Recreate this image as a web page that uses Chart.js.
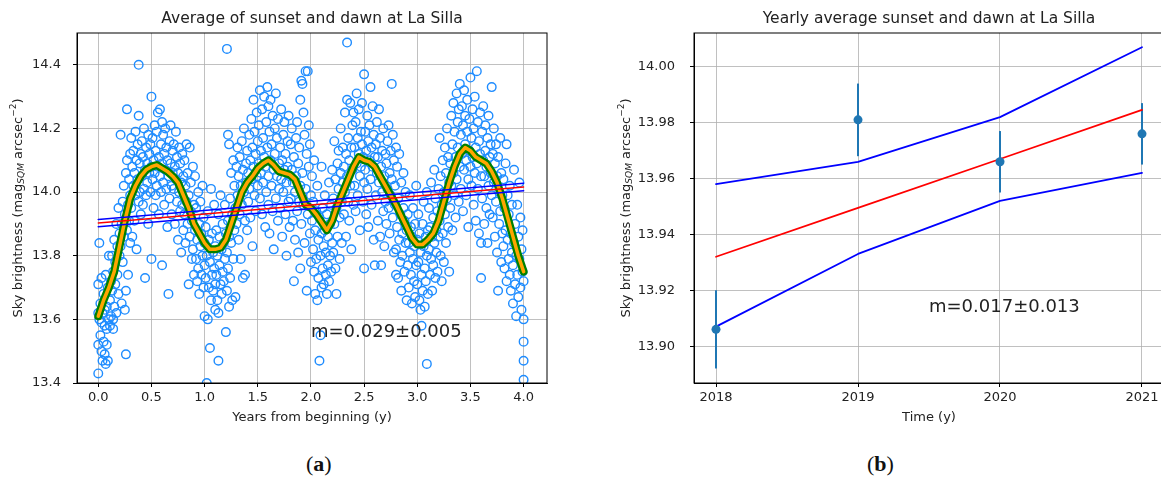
<!DOCTYPE html>
<html>
<head>
<meta charset="utf-8">
<script src="https://cdn.jsdelivr.net/npm/chart.js@4.4.0/dist/chart.umd.min.js"></script>
<style>
  html, body { margin: 0; padding: 0; background: #fff; overflow: hidden; width: 1161px; height: 483px; }
  canvas { position: absolute; top: 0; }
  #left { left: 0; width: 570px; height: 430px; }
  #right { left: 580px; width: 600px; height: 430px; }
  .panel { position: absolute; top: 451px; font-size: 22px; font-family: "Liberation Serif", "DejaVu Serif", serif; color: #111; }
</style>
</head>
<body>
<canvas id="left" width="570" height="430"></canvas>
<canvas id="right" width="600" height="430"></canvas>
<div class="panel" style="left:306px">(<b>a</b>)</div>
<div class="panel" style="left:867px">(<b>b</b>)</div>
<script>
// ---- panel (a): nightly values, years since start vs. sky brightness ----
const skyPoints = [
  [0.00,13.43],[0.00,13.52],[0.00,13.62],[0.00,13.71],[0.01,13.60],[0.01,13.84],[0.02,13.65],[0.02,13.55],[0.03,13.50],[0.03,13.73],[0.04,13.47],[0.04,13.62],[0.05,13.53],[0.05,13.68],[0.06,13.49],[0.06,13.58],[0.07,13.46],[0.07,13.74],[0.08,13.52],[0.08,13.64],[0.09,13.47],[0.09,13.70],[0.10,13.60],[0.10,13.80],[0.03,13.59],[0.06,13.63],[0.08,13.57],
  [0.11,13.58],[0.11,13.66],[0.12,13.72],[0.12,13.61],[0.13,13.80],[0.13,13.69],[0.14,13.57],[0.14,13.75],[0.15,13.64],[0.15,13.85],[0.16,13.71],[0.16,13.78],[0.17,13.62],[0.17,13.90],[0.18,13.74],[0.18,13.83],[0.19,13.68],[0.19,13.95],[0.20,13.80],[0.20,13.87],[0.14,13.60],
  [0.21,13.83],[0.21,14.18],[0.22,13.90],[0.22,13.65],[0.23,13.97],[0.23,13.78],[0.24,13.86],[0.24,14.02],[0.25,13.63],[0.25,13.93],[0.26,13.49],[0.26,13.69],[0.26,14.06],[0.27,14.26],[0.27,13.88],[0.27,14.10],[0.28,13.96],[0.28,13.74],[0.29,14.04],[0.29,13.91],[0.30,14.12],[0.30,13.99],[0.30,13.84],
  [0.31,14.17],[0.31,13.95],[0.32,14.08],[0.32,13.86],[0.33,14.13],[0.33,14.02],[0.34,13.91],[0.34,14.06],[0.35,14.19],[0.35,13.99],[0.36,14.10],[0.36,13.82],[0.37,14.04],[0.37,14.15],[0.38,14.40],[0.38,14.24],[0.38,13.97],[0.39,14.09],[0.39,14.00],[0.40,14.12],[0.40,13.93],
  [0.41,14.05],[0.41,14.16],[0.42,13.96],[0.42,14.11],[0.43,14.01],[0.43,14.20],[0.44,13.73],[0.44,14.07],[0.45,14.14],[0.45,13.99],[0.46,14.09],[0.46,14.03],[0.47,14.18],[0.47,13.90],[0.48,14.12],[0.48,14.06],[0.49,14.00],[0.49,14.15],[0.50,14.30],[0.50,13.79],[0.50,14.08],
  [0.51,14.04],[0.51,14.17],[0.52,14.10],[0.52,13.95],[0.53,14.21],[0.53,14.06],[0.54,14.13],[0.54,13.99],[0.55,14.02],[0.55,14.19],[0.56,14.08],[0.56,14.25],[0.57,14.11],[0.57,13.93],[0.58,14.26],[0.58,14.05],[0.59,14.15],[0.59,14.00],[0.60,13.77],[0.60,14.09],[0.60,14.22],
  [0.61,14.18],[0.61,14.03],[0.62,14.12],[0.62,13.96],[0.63,14.07],[0.63,14.20],[0.64,14.01],[0.64,14.14],[0.65,13.89],[0.65,14.10],[0.66,13.68],[0.66,14.05],[0.67,14.16],[0.67,13.98],[0.68,14.09],[0.68,14.21],[0.69,14.02],[0.69,13.93],[0.70,14.13],[0.70,14.06],
  [0.71,14.15],[0.71,14.01],[0.72,14.08],[0.72,13.90],[0.73,14.19],[0.73,14.04],[0.74,13.97],[0.74,14.11],[0.75,14.06],[0.75,13.85],[0.76,14.14],[0.76,14.00],[0.77,13.94],[0.77,14.09],[0.78,14.03],[0.78,13.81],[0.79,14.12],[0.79,13.96],[0.80,14.05],[0.80,13.88],
  [0.81,14.10],[0.81,13.93],[0.82,14.02],[0.82,13.84],[0.83,14.15],[0.83,13.97],[0.84,13.90],[0.84,14.06],[0.85,13.71],[0.85,13.99],[0.86,14.14],[0.86,13.86],[0.87,13.94],[0.87,14.03],[0.88,13.79],[0.88,13.91],[0.89,14.08],[0.89,13.82],[0.90,13.74],[0.90,13.96],
  [0.91,13.88],[0.91,14.05],[0.92,13.79],[0.92,13.95],[0.93,13.72],[0.93,13.85],[0.94,14.00],[0.94,13.76],[0.95,13.90],[0.95,13.68],[0.96,13.83],[0.96,13.97],[0.97,13.74],[0.97,13.87],[0.98,13.80],[0.98,14.02],[0.99,13.70],[0.99,13.92],[1.00,13.61],[1.00,13.84],[1.00,13.77],
  [1.01,13.73],[1.01,13.89],[1.02,13.40],[1.02,13.80],[1.03,13.60],[1.03,13.94],[1.04,13.70],[1.04,13.85],[1.05,13.51],[1.05,13.78],[1.06,13.66],[1.06,14.01],[1.07,13.74],[1.07,13.87],[1.08,13.69],[1.08,13.81],[1.09,13.76],[1.09,13.96],[1.10,13.63],[1.10,13.83],[1.10,13.71],
  [1.11,13.74],[1.11,13.88],[1.12,13.80],[1.12,13.66],[1.13,13.47],[1.13,13.62],[1.13,13.93],[1.14,13.77],[1.14,13.86],[1.15,13.71],[1.15,13.99],[1.16,13.82],[1.16,13.68],[1.17,13.75],[1.17,13.90],[1.18,13.84],[1.18,13.72],[1.19,13.79],[1.19,13.96],[1.20,13.56],[1.20,13.87],[1.21,14.45],[1.22,14.18],[1.23,14.15],[1.23,13.64],
  [1.21,13.81],[1.21,13.69],[1.22,13.91],[1.22,13.76],[1.23,13.86],[1.24,13.98],[1.24,13.73],[1.25,13.84],[1.25,14.06],[1.26,13.66],[1.26,13.93],[1.27,14.10],[1.27,13.79],[1.28,13.88],[1.28,14.02],[1.29,13.95],[1.29,13.67],[1.30,14.08],[1.30,13.90],
  [1.31,13.99],[1.31,14.14],[1.32,13.85],[1.32,14.05],[1.33,13.93],[1.33,14.11],[1.34,14.02],[1.34,13.79],[1.35,14.16],[1.35,13.96],[1.36,13.73],[1.36,14.07],[1.37,14.00],[1.37,14.20],[1.38,13.74],[1.38,13.91],[1.39,14.09],[1.39,14.03],[1.40,13.88],[1.40,14.13],
  [1.41,14.06],[1.41,13.97],[1.42,14.18],[1.42,14.01],[1.43,13.92],[1.43,14.10],[1.44,14.23],[1.44,14.04],[1.45,13.83],[1.45,14.14],[1.46,14.29],[1.46,14.08],[1.47,13.99],[1.47,14.19],[1.48,14.12],[1.48,13.94],[1.49,14.05],[1.49,14.25],[1.50,14.16],[1.50,14.02],
  [1.51,14.09],[1.51,14.21],[1.52,14.32],[1.52,13.98],[1.53,14.13],[1.53,14.06],[1.54,14.26],[1.54,13.93],[1.55,14.17],[1.55,14.03],[1.56,14.11],[1.56,14.30],[1.57,14.08],[1.57,13.89],[1.58,14.22],[1.58,14.00],[1.59,14.33],[1.59,14.14],[1.60,14.05],[1.60,14.27],[1.60,13.96],
  [1.61,14.19],[1.61,13.87],[1.62,14.10],[1.62,14.29],[1.63,14.02],[1.63,14.15],[1.64,13.94],[1.64,14.24],[1.65,14.07],[1.65,13.82],[1.66,14.20],[1.66,14.12],[1.67,13.98],[1.67,14.31],[1.68,14.05],[1.68,14.17],[1.69,13.91],[1.69,14.23],[1.70,14.09],[1.70,14.01],
  [1.71,14.14],[1.71,13.95],[1.72,14.26],[1.72,14.04],[1.73,14.10],[1.73,13.86],[1.74,14.18],[1.74,14.00],[1.75,14.07],[1.75,14.22],[1.76,13.93],[1.76,14.12],[1.77,14.03],[1.77,13.80],[1.78,14.16],[1.78,14.08],[1.79,13.97],[1.79,14.24],[1.80,14.05],[1.80,13.89],
  [1.81,14.15],[1.81,13.98],[1.82,14.07],[1.82,14.20],[1.83,13.91],[1.83,14.03],[1.84,13.72],[1.84,14.11],[1.85,14.00],[1.85,13.85],[1.86,14.17],[1.86,14.05],[1.87,13.94],[1.87,14.22],[1.88,14.09],[1.88,13.81],[1.89,13.97],[1.89,14.14],[1.90,13.76],[1.90,14.29],[1.90,14.02],
  [1.91,14.35],[1.91,13.90],[1.92,14.34],[1.92,14.06],[1.93,14.25],[1.93,13.96],[1.94,14.18],[1.94,13.84],[1.95,14.38],[1.95,14.01],[1.96,14.12],[1.96,13.69],[1.97,14.38],[1.97,13.93],[1.98,14.21],[1.98,14.08],[1.99,13.87],[1.99,14.15],[2.00,13.99],[2.00,13.78],
  [2.01,13.91],[2.01,14.05],[2.02,13.82],[2.02,13.97],[2.03,13.75],[2.03,14.10],[2.04,13.88],[2.04,13.68],[2.05,13.94],[2.05,13.79],[2.06,13.66],[2.06,14.02],[2.07,13.85],[2.07,13.73],[2.08,13.47],[2.08,13.92],[2.09,13.55],[2.09,13.80],[2.10,14.08],[2.10,13.70],[2.10,13.87],
  [2.11,13.76],[2.11,13.95],[2.12,13.83],[2.12,13.71],[2.13,13.99],[2.13,13.88],[2.14,13.74],[2.14,13.81],[2.15,13.93],[2.15,13.68],[2.16,13.86],[2.16,13.77],[2.17,14.03],[2.17,13.72],[2.18,13.90],[2.18,13.80],[2.19,13.96],[2.19,13.75],[2.20,13.84],[2.20,14.07],
  [2.21,13.98],[2.21,13.81],[2.22,14.16],[2.22,13.90],[2.23,14.04],[2.23,13.76],[2.24,13.68],[2.24,13.95],[2.25,14.09],[2.25,13.86],[2.26,14.01],[2.26,14.13],[2.27,13.92],[2.27,13.79],[2.28,14.06],[2.28,14.20],[2.29,13.97],[2.29,13.84],[2.30,14.14],[2.30,14.03],
  [2.31,14.08],[2.31,13.93],[2.32,14.25],[2.32,14.00],[2.33,14.12],[2.33,13.86],[2.34,14.47],[2.34,14.29],[2.34,14.05],[2.35,13.97],[2.35,14.17],[2.36,14.10],[2.36,13.91],[2.37,14.28],[2.37,14.02],[2.38,14.14],[2.38,13.82],[2.39,14.21],[2.39,14.07],[2.40,14.25],[2.40,13.96],
  [2.41,14.14],[2.41,14.02],[2.42,14.22],[2.42,13.94],[2.43,14.09],[2.43,14.31],[2.44,14.17],[2.44,13.99],[2.45,14.12],[2.45,14.26],[2.46,14.05],[2.46,13.88],[2.47,14.19],[2.47,14.08],[2.48,14.15],[2.48,14.28],[2.49,13.97],[2.49,14.11],[2.50,14.37],[2.50,13.76],[2.50,14.03],
  [2.51,14.19],[2.51,14.07],[2.52,13.93],[2.52,14.13],[2.53,14.24],[2.53,14.01],[2.54,14.16],[2.54,13.89],[2.55,14.10],[2.55,14.21],[2.56,14.33],[2.56,14.04],[2.57,14.14],[2.57,13.96],[2.58,14.08],[2.58,14.27],[2.59,14.18],[2.59,13.85],[2.60,13.77],[2.60,14.11],
  [2.61,14.15],[2.61,13.99],[2.62,14.22],[2.62,14.06],[2.63,13.91],[2.63,14.11],[2.64,14.03],[2.64,14.26],[2.65,13.86],[2.65,14.17],[2.66,13.77],[2.66,14.08],[2.67,14.00],[2.67,14.13],[2.68,14.20],[2.68,13.94],[2.69,14.05],[2.69,13.83],[2.70,14.12],[2.70,13.97],
  [2.71,14.09],[2.71,13.90],[2.72,14.16],[2.72,14.01],[2.73,13.95],[2.73,14.21],[2.74,14.06],[2.74,13.87],[2.75,14.13],[2.75,13.99],[2.76,14.34],[2.76,14.04],[2.77,13.92],[2.77,14.18],[2.78,14.10],[2.78,13.81],[2.79,13.96],[2.79,14.02],[2.80,13.82],[2.80,14.14],[2.80,13.74],
  [2.81,13.89],[2.81,14.08],[2.82,13.73],[2.82,13.98],[2.83,13.85],[2.83,14.12],[2.84,13.93],[2.84,13.78],[2.85,13.69],[2.85,14.03],[2.86,13.87],[2.86,13.80],[2.87,13.95],[2.87,14.06],[2.88,13.75],[2.88,13.91],[2.89,13.84],[2.89,14.00],[2.90,13.66],[2.90,13.88],
  [2.91,13.77],[2.91,13.93],[2.92,13.84],[2.92,13.70],[2.93,13.99],[2.93,13.81],[2.94,13.74],[2.94,13.89],[2.95,13.65],[2.95,13.86],[2.96,13.79],[2.96,13.95],[2.97,13.72],[2.97,13.83],[2.98,13.90],[2.98,13.67],[2.99,13.77],[2.99,14.02],[3.00,13.85],[3.00,13.71],
  [3.01,13.78],[3.01,13.93],[3.02,13.66],[3.02,13.87],[3.03,13.63],[3.03,13.81],[3.04,13.58],[3.04,13.74],[3.05,13.90],[3.05,13.69],[3.06,13.83],[3.06,13.97],[3.07,13.76],[3.07,13.64],[3.08,13.86],[3.08,13.72],[3.09,13.80],[3.09,14.00],[3.09,13.46],[3.10,13.68],[3.10,13.88],
  [3.11,13.82],[3.11,13.95],[3.12,13.74],[3.12,13.89],[3.13,14.03],[3.13,13.79],[3.14,13.69],[3.14,13.86],[3.15,13.92],[3.15,13.77],[3.16,13.84],[3.16,14.07],[3.17,13.73],[3.17,13.98],[3.18,13.88],[3.18,13.81],[3.19,13.94],[3.19,13.75],[3.20,14.01],[3.20,13.86],
  [3.21,14.17],[3.21,13.91],[3.22,13.80],[3.22,14.05],[3.23,13.96],[3.23,13.72],[3.24,14.10],[3.24,13.87],[3.25,14.00],[3.25,13.78],[3.26,14.14],[3.26,13.93],[3.27,14.06],[3.27,13.84],[3.28,14.20],[3.28,13.98],[3.29,13.89],[3.29,14.11],[3.30,14.03],[3.30,13.75],
  [3.31,14.09],[3.31,13.95],[3.32,14.24],[3.32,14.02],[3.33,14.15],[3.33,13.88],[3.34,14.06],[3.34,14.28],[3.35,13.99],[3.35,14.19],[3.36,14.11],[3.36,13.92],[3.37,14.31],[3.37,14.04],[3.38,14.22],[3.38,14.14],[3.39,13.97],[3.39,14.26],[3.40,14.08],[3.40,14.34],
  [3.41,14.18],[3.41,14.01],[3.42,14.27],[3.42,14.12],[3.43,13.94],[3.43,14.21],[3.44,14.32],[3.44,14.07],[3.45,14.15],[3.45,14.24],[3.46,13.99],[3.46,14.10],[3.47,14.29],[3.47,14.19],[3.48,13.89],[3.48,14.04],[3.49,14.13],[3.49,14.23],[3.50,14.36],[3.50,14.08],
  [3.51,14.17],[3.51,14.02],[3.52,14.26],[3.52,14.11],[3.53,13.96],[3.53,14.20],[3.54,14.06],[3.54,14.30],[3.55,14.14],[3.55,13.91],[3.56,14.38],[3.56,14.09],[3.57,14.22],[3.57,14.01],[3.58,14.16],[3.58,13.87],[3.59,14.12],[3.59,14.25],[3.60,13.73],[3.60,14.05],[3.60,13.84],
  [3.61,14.19],[3.61,13.98],[3.62,14.10],[3.62,14.27],[3.63,13.90],[3.63,14.05],[3.64,14.21],[3.64,14.13],[3.65,13.95],[3.65,14.08],[3.66,14.17],[3.66,13.84],[3.67,14.02],[3.67,14.24],[3.68,14.11],[3.68,13.93],[3.69,14.06],[3.69,14.15],[3.70,13.99],[3.70,14.33],
  [3.71,14.12],[3.71,13.92],[3.72,14.20],[3.72,14.03],[3.73,13.86],[3.73,14.09],[3.74,14.15],[3.74,13.97],[3.75,14.05],[3.75,13.81],[3.76,13.69],[3.76,14.11],[3.77,14.00],[3.77,13.90],[3.78,14.17],[3.78,13.94],[3.79,13.78],[3.79,14.06],[3.80,13.99],[3.80,13.87],
  [3.81,14.04],[3.81,13.83],[3.82,13.95],[3.82,13.76],[3.83,14.09],[3.83,13.88],[3.84,14.15],[3.84,13.72],[3.85,13.99],[3.85,13.85],[3.86,13.79],[3.86,13.93],[3.87,14.02],[3.87,13.74],[3.88,13.87],[3.88,13.69],[3.89,13.81],[3.89,13.96],[3.90,13.65],[3.90,13.77],
  [3.91,13.84],[3.91,14.07],[3.92,13.71],[3.92,13.90],[3.93,13.61],[3.93,13.80],[3.94,13.96],[3.94,13.74],[3.95,13.86],[3.95,13.67],[3.96,13.79],[3.96,14.03],[3.97,13.70],[3.97,13.92],[3.98,13.63],[3.98,13.82],[3.99,13.75],[3.99,13.88],[4.00,13.53],[4.00,13.47],[4.00,13.41],[4.00,13.72],[4.00,13.60]
];

// running mean through the nightly values
const runningMean = [
  [0.00,13.61],[0.05,13.66],[0.10,13.70],[0.15,13.75],[0.20,13.83],[0.25,13.91],[0.30,13.98],[0.35,14.02],[0.40,14.05],[0.45,14.07],
  [0.50,14.08],[0.55,14.085],[0.60,14.075],[0.65,14.065],[0.70,14.05],[0.75,14.03],[0.80,13.99],[0.85,13.95],[0.90,13.90],[0.95,13.87],
  [1.00,13.84],[1.05,13.82],[1.10,13.82],[1.15,13.825],[1.20,13.85],[1.25,13.90],[1.30,13.95],[1.35,14.00],[1.40,14.03],[1.45,14.05],
  [1.50,14.075],[1.55,14.09],[1.60,14.10],[1.65,14.085],[1.70,14.065],[1.75,14.06],[1.80,14.055],[1.85,14.04],[1.90,14.00],[1.95,13.96],
  [2.00,13.95],[2.05,13.93],[2.10,13.905],[2.15,13.88],[2.20,13.91],[2.25,13.96],[2.30,14.00],[2.35,14.04],[2.40,14.08],[2.45,14.11],
  [2.50,14.10],[2.55,14.095],[2.60,14.08],[2.65,14.05],[2.70,14.02],[2.75,13.99],[2.80,13.96],[2.85,13.925],[2.90,13.89],[2.95,13.855],
  [3.00,13.835],[3.05,13.835],[3.10,13.85],[3.15,13.87],[3.20,13.91],[3.25,13.97],[3.30,14.03],[3.35,14.08],[3.40,14.12],[3.45,14.14],
  [3.50,14.13],[3.55,14.11],[3.60,14.10],[3.65,14.09],[3.70,14.065],[3.75,14.03],[3.80,13.98],[3.85,13.92],[3.90,13.86],[3.95,13.80],
  [4.00,13.75]
];

// linear fit and its band, evaluated at the ends of the range
const fitYears = [0, 4];
const fitMag = [13.903, 14.016];
const fitMagHigh = [13.914, 14.028];
const fitMagLow = [13.891, 14.004];

const tickYearsA = [0, 0.5, 1, 1.5, 2, 2.5, 3, 3.5, 4];
const tickMagA = [13.4, 13.6, 13.8, 14.0, 14.2, 14.4];

// ---- panel (b): yearly means ----
const years = [2018, 2019, 2020, 2021];
const yearMag = [13.906, 13.981, 13.966, 13.976];
const yearErr = [0.014, 0.013, 0.011, 0.011];
const yearFit = [13.932, 13.9495, 13.967, 13.9846];
const yearFitHigh = [13.958, 13.966, 13.982, 14.007];
const yearFitLow = [13.907, 13.933, 13.952, 13.962];

const tickMagB = [13.90, 13.92, 13.94, 13.96, 13.98, 14.00];

const FONT = '"DejaVu Sans", Verdana, sans-serif';
Chart.defaults.font.family = FONT;
Chart.defaults.color = '#222';

const xy = (xs, ys) => xs.map((x, i) => ({ x, y: ys[i] }));
const pairs = list => list.map(p => ({ x: p[0], y: p[1] }));

// frame on all four sides, title, slope note and the y label with sub/superscripts
const decorations = {
  id: 'decorations',
  afterDraw(chart, args, o) {
    const { ctx, chartArea: a, scales } = chart;
    ctx.save();
    ctx.strokeStyle = '#000';
    ctx.lineWidth = 1;
    ctx.strokeRect(a.left, a.top, a.right - a.left, a.bottom - a.top);

    ctx.fillStyle = '#222';
    ctx.textBaseline = 'middle';
    ctx.textAlign = 'center';
    ctx.font = '15.5px ' + FONT;
    ctx.fillText(o.title, (a.left + a.right) / 2, 19);

    ctx.textAlign = 'left';
    ctx.font = '18px ' + FONT;
    ctx.fillText(o.note, scales.x.getPixelForValue(o.noteAt[0]), scales.y.getPixelForValue(o.noteAt[1]));

    const parts = [
      { t: 'Sky brightness (mag', f: '13px ' + FONT, dy: 0 },
      { t: 'SQM', f: 'italic 9px ' + FONT, dy: 3 },
      { t: ' arcsec', f: '13px ' + FONT, dy: 0 },
      { t: '\u22122', f: '9px ' + FONT, dy: -5 },
      { t: ')', f: '13px ' + FONT, dy: 0 }
    ];
    let total = 0;
    parts.forEach(p => { ctx.font = p.f; p.w = ctx.measureText(p.t).width; total += p.w; });
    ctx.translate(o.yTitleX, (a.top + a.bottom) / 2);
    ctx.rotate(-Math.PI / 2);
    let cx = -total / 2;
    parts.forEach(p => { ctx.font = p.f; ctx.fillText(p.t, cx, p.dy); cx += p.w; });
    ctx.restore();
  }
};

const errorBars = {
  id: 'errorBars',
  beforeDatasetsDraw(chart) {
    const { ctx, scales: { x, y } } = chart;
    ctx.save();
    ctx.strokeStyle = '#1f77b4';
    ctx.lineWidth = 2;
    years.forEach((yr, i) => {
      const px = x.getPixelForValue(yr);
      ctx.beginPath();
      ctx.moveTo(px, y.getPixelForValue(yearMag[i] - yearErr[i]));
      ctx.lineTo(px, y.getPixelForValue(yearMag[i] + yearErr[i]));
      ctx.stroke();
    });
    ctx.restore();
  }
};

const grid = { color: '#b0b0b0', lineWidth: 0.8, tickColor: '#000', tickWidth: 1, tickLength: 4 };
const border = { color: '#000', width: 1 };
const fixedTicks = list => s => { s.ticks = list.map(v => ({ value: v })); };

const line = (data, color, width, order) => ({
  type: 'line', data, borderColor: color, borderWidth: width, pointRadius: 0,
  fill: false, tension: 0, borderJoinStyle: 'round', borderCapStyle: 'round', clip: 0, order
});

new Chart(document.getElementById('left'), {
  data: {
    datasets: [
      line(xy(fitYears, fitMagHigh), '#0000ff', 1.6, 1),
      line(xy(fitYears, fitMagLow), '#0000ff', 1.6, 1),
      line(xy(fitYears, fitMag), '#ff0000', 1.4, 0),
      line(pairs(runningMean), '#ffa500', 3.5, 2),
      line(pairs(runningMean), '#008000', 8, 3),
      {
        type: 'scatter', data: pairs(skyPoints), order: 4, clip: 0,
        pointRadius: 4.3, pointBorderWidth: 1.4, pointBorderColor: '#1e8cff',
        pointBackgroundColor: 'rgba(0,0,0,0)', showLine: false
      }
    ]
  },
  options: {
    responsive: false, animation: false, events: [],
    layout: { padding: { top: 33, right: 23, left: 0, bottom: 0 } },
    plugins: {
      legend: { display: false }, tooltip: { enabled: false },
      decorations: {
        title: 'Average of sunset and dawn at La Silla',
        note: 'm=0.029\u00b10.005', noteAt: [2.0, 13.56], yTitleX: 19
      }
    },
    scales: {
      x: {
        type: 'linear', min: -0.2, max: 4.22,
        afterBuildTicks: fixedTicks(tickYearsA),
        afterFit: s => { s.height = 47; },
        grid, border,
        ticks: { callback: v => v.toFixed(1), font: { size: 13 }, padding: 3, maxRotation: 0, autoSkip: false },
        title: { display: true, text: 'Years from beginning (y)', font: { size: 13 }, padding: { top: 0, bottom: 5 } }
      },
      y: {
        type: 'linear', min: 13.4, max: 14.5,
        afterBuildTicks: fixedTicks(tickMagA),
        afterFit: s => { s.width = 77; },
        grid, border,
        ticks: { callback: v => v.toFixed(1), font: { size: 13 }, padding: 12, autoSkip: false }
      }
    }
  },
  plugins: [decorations]
});

new Chart(document.getElementById('right'), {
  data: {
    datasets: [
      {
        type: 'scatter', data: xy(years, yearMag), order: 0, clip: 0,
        pointRadius: 4.5, pointBorderWidth: 0, pointBackgroundColor: '#1f77b4', showLine: false
      },
      line(xy(years, yearFitHigh), '#0000ff', 1.8, 1),
      line(xy(years, yearFitLow), '#0000ff', 1.8, 1),
      line(xy(years, yearFit), '#ff0000', 1.8, 1)
    ]
  },
  options: {
    responsive: false, animation: false, events: [],
    layout: { padding: { top: 33, right: 16, left: 0, bottom: 0 } },
    plugins: {
      legend: { display: false }, tooltip: { enabled: false },
      decorations: {
        title: 'Yearly average sunset and dawn at La Silla',
        note: 'm=0.017\u00b10.013', noteAt: [2019.5, 13.914], yTitleX: 47
      }
    },
    scales: {
      x: {
        type: 'linear', min: 2017.845, max: 2021.155,
        afterBuildTicks: fixedTicks(years),
        afterFit: s => { s.height = 47; },
        grid, border,
        ticks: { callback: v => v.toFixed(0), font: { size: 13 }, padding: 3, maxRotation: 0, autoSkip: false },
        title: { display: true, text: 'Time (y)', font: { size: 13 }, padding: { top: 0, bottom: 5 } }
      },
      y: {
        type: 'linear', min: 13.8868, max: 14.0121,
        afterBuildTicks: fixedTicks(tickMagB),
        afterFit: s => { s.width = 114; },
        grid, border,
        ticks: { callback: v => v.toFixed(2), font: { size: 13 }, padding: 15, autoSkip: false }
      }
    }
  },
  plugins: [decorations, errorBars]
});
</script>
</body>
</html>
